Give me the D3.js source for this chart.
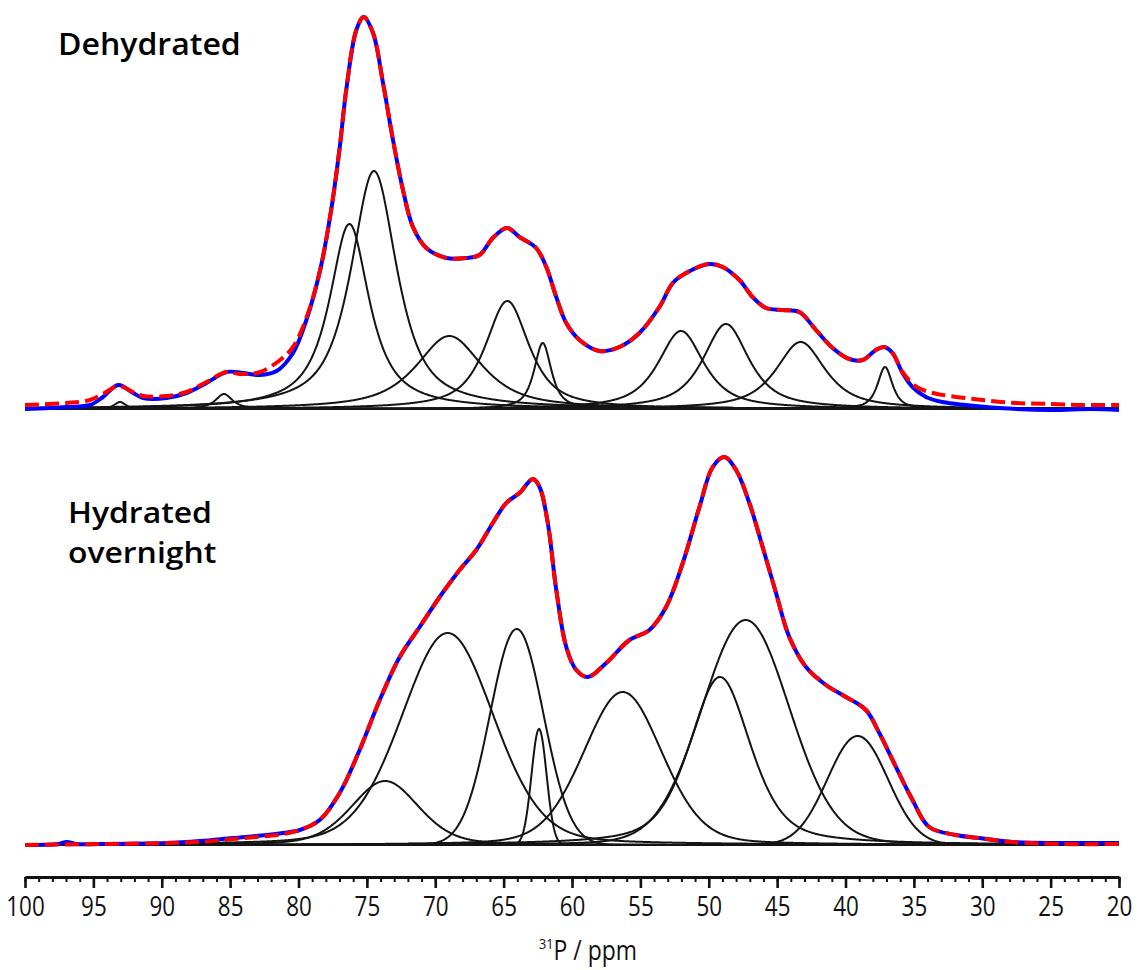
<!DOCTYPE html>
<html><head><meta charset="utf-8">
<script src="https://cdn.jsdelivr.net/npm/d3@7"></script>
<style>
html,body{margin:0;padding:0;background:#fff;}
svg{display:block;}
</style></head>
<body>
<svg id="chart" width="1139" height="970"></svg>
<script>
// ---------- DATA ----------
const panelLabels = [["Dehydrated"], ["Hydrated", "overnight"]];
const tickLabels = [100,95,90,85,80,75,70,65,60,55,50,45,40,35,30,25,20];
const axisTitleSup = "31";
const axisTitleMain = "P / ppm";

// Dehydrated: deconvolution components (centre ppm, height, FWHM ppm, Lorentzian fraction)
const dehydCenters = [93.05, 85.45, 76.28, 74.48, 68.97, 64.73, 62.14, 52.03, 48.74, 43.28, 37.11];
const dehydHeights = [7, 15, 185, 238, 73, 108, 66, 78, 85, 67, 42];
const dehydWidths  = [1.0, 1.5, 3.5, 4.0, 5.8, 3.8, 1.5, 4.0, 4.0, 4.3, 1.3];
const dehydLorentz = [0.9, 0.9, 0.9, 0.8, 0.8, 0.8, 0.8, 0.8, 0.8, 0.8, 0.8];

// Dehydrated: experimental spectrum (blue)
const dehydExpPpm = [100, 96.96, 95.25, 94.3, 93.18, 92.09, 91.36, 89.65, 88.19, 86.73, 85.27, 84.05, 82.83, 81.6, 80.4, 79.4, 78.4, 77.6, 77.0, 76.5, 75.77, 75.23, 74.55, 73.82, 73.09, 72.36, 71.63, 70.65, 69.19, 67.73, 66.76, 65.79, 64.76, 63.84, 62.62, 61.88, 61.15, 60.42, 59.45, 57.99, 56.53, 55.07, 53.61, 52.63, 51.66, 49.95, 48.98, 47.76, 46.79, 45.81, 44.6, 43.38, 42.16, 40.94, 39.73, 38.75, 37.78, 37.17, 36.56, 35.83, 35.1, 34.12, 32.91, 31.2, 28.77, 25, 22, 20];
const dehydExpInt = [0, 2, 4, 12, 24, 16, 11, 11, 16, 26, 37, 36, 34, 38, 56, 90, 140, 200, 260, 320, 379, 392, 376, 326, 269, 219, 182, 161, 151, 151, 154, 171, 181, 172, 161, 142, 112, 86, 69, 58, 62, 76, 102, 126, 136, 145, 142, 129, 112, 101, 99, 97, 79, 61, 50, 49, 59, 62, 56, 36, 22, 12, 7, 4, 1, -1, 0, -1];

// Dehydrated: fitted sum (red dashed)
const dehydFitPpm = [100, 96.96, 95.25, 94.3, 93.18, 92.09, 91.36, 89.65, 88.19, 86.73, 85.27, 84.3, 82.8, 81.35, 80.4, 79.4, 78.4, 77.6, 77.0, 76.5, 75.77, 75.23, 74.55, 73.82, 73.09, 72.36, 71.63, 70.65, 69.19, 67.73, 66.76, 65.79, 64.76, 63.84, 62.62, 61.88, 61.15, 60.42, 59.45, 57.99, 56.53, 55.07, 53.61, 52.63, 51.66, 49.95, 48.98, 47.76, 46.79, 45.81, 44.6, 43.38, 42.16, 40.94, 39.73, 38.75, 37.78, 37.17, 36.56, 35.83, 34.8, 33.6, 32.4, 30.0, 27.5, 25.0, 22.6, 20];
const dehydFitInt = [4, 6, 9, 15, 23, 17, 13, 13, 17, 27, 37, 35, 37, 49, 62, 92, 140, 200, 260, 320, 379, 392, 376, 326, 269, 219, 182, 161, 151, 151, 154, 171, 181, 172, 161, 142, 112, 86, 69, 58, 62, 76, 102, 126, 136, 145, 142, 129, 112, 101, 99, 97, 79, 61, 50, 49, 59, 62, 56, 37, 22, 16, 13, 9, 6, 5, 4, 4];

// Hydrated overnight: deconvolution components
const hydCenters = [73.67, 69.09, 64.04, 62.41, 56.29, 49.18, 47.30, 39.11];
const hydHeights = [64, 212, 216, 116, 153, 168, 225, 109];
const hydWidths  = [5.8, 8.0, 4.6, 1.3, 6.8, 5.3, 7.6, 5.2];
const hydLorentz = [0.3, 0.2, 0.0, 0.0, 0.2, 0.5, 0.1, 0.0];

// Hydrated overnight: experimental spectrum (blue)
const hydExpPpm = [100, 97.6, 96.95, 96.2, 94.5, 89.65, 87.2, 84.8, 82.3, 81.13, 79.9, 78.45, 76.99, 75.53, 74.06, 72.6, 71.14, 69.68, 68.22, 67.0, 65.79, 64.81, 63.84, 62.86, 62.37, 61.77, 61.15, 60.42, 59.69, 58.84, 57.5, 55.8, 54.34, 53.12, 51.9, 50.68, 49.71, 48.86, 48.0, 47.03, 46.06, 45.08, 44.11, 42.89, 41.43, 39.97, 38.51, 37.53, 36.31, 35.1, 33.88, 31.93, 30.23, 27.8, 24.1, 20];
const hydExpInt = [0, 1, 3, 1, 1, 2, 4, 7, 10, 12, 15, 25, 52, 95, 145, 188, 218, 248, 275, 295, 322, 342, 352, 366, 358, 322, 255, 198, 175, 168, 182, 205, 215, 238, 282, 338, 378, 388, 375, 342, 298, 252, 208, 178, 160, 148, 135, 112, 78, 45, 18, 10, 7, 3, 2, 2];

// Hydrated overnight: fitted sum (red dashed)
const hydFitPpm = [100, 94.5, 89.65, 87.2, 84.8, 82.3, 81.13, 79.9, 78.45, 76.99, 75.53, 74.06, 72.6, 71.14, 69.68, 68.22, 67.0, 65.79, 64.81, 63.84, 62.86, 62.37, 61.77, 61.15, 60.42, 59.69, 58.84, 57.5, 55.8, 54.34, 53.12, 51.9, 50.68, 49.71, 48.86, 48.0, 47.03, 46.06, 45.08, 44.11, 42.89, 41.43, 39.97, 38.51, 37.53, 36.31, 35.1, 33.88, 31.93, 30.23, 27.8, 24.1, 20];
const hydFitInt = [0, 1, 2, 3, 6, 9, 11, 15, 25, 52, 95, 145, 188, 218, 248, 275, 295, 322, 342, 352, 366, 358, 322, 255, 198, 175, 168, 182, 205, 215, 238, 282, 338, 378, 388, 375, 342, 298, 252, 208, 178, 160, 148, 135, 112, 78, 45, 18, 10, 7, 3, 1, 1];

// ---------- DRAWING ----------
const svg = d3.select("#chart");
const x = d3.scaleLinear().domain([100, 20]).range([25, 1119]);
const yTop = d3.scaleLinear().domain([0, 400]).range([409, 9]);
const yBot = d3.scaleLinear().domain([0, 400]).range([845, 445]);

function pv(p, c, h, w, eta) {
  const d = (p - c) / w;
  const g = Math.exp(-4 * Math.LN2 * d * d);
  const l = 1 / (1 + 4 * d * d);
  return h * (eta * l + (1 - eta) * g);
}
const grid = d3.range(100, 19.999, -0.05);

function drawPanel(y, centers, heights, widths, lor, expP, expI, fitP, fitI) {
  const g = svg.append("g");
  const compLine = d3.line().x(d => x(d[0])).y(d => y(d[1]));
  centers.forEach((c, i) => {
    const pts = grid.map(p => [p, pv(p, c, heights[i], widths[i], lor[i])]);
    g.append("path").attr("d", compLine(pts))
      .attr("fill", "none").attr("stroke", "#141414").attr("stroke-width", 2);
  });
  const smooth = d3.line().x(d => x(d[0])).y(d => y(d[1])).curve(d3.curveCatmullRom.alpha(0.5));
  g.append("path").attr("d", smooth(expP.map((p, i) => [p, expI[i]])))
    .attr("fill", "none").attr("stroke", "#0000ff").attr("stroke-width", 4).attr("stroke-linejoin", "round");
  g.append("path").attr("d", smooth(fitP.map((p, i) => [p, fitI[i]])))
    .attr("fill", "none").attr("stroke", "#ff0000").attr("stroke-width", 4)
    .attr("stroke-dasharray", "14,6");
}

drawPanel(yTop, dehydCenters, dehydHeights, dehydWidths, dehydLorentz, dehydExpPpm, dehydExpInt, dehydFitPpm, dehydFitInt);
drawPanel(yBot, hydCenters, hydHeights, hydWidths, hydLorentz, hydExpPpm, hydExpInt, hydFitPpm, hydFitInt);

// labels
const labelFont = "'Open Sans', 'Noto Sans', sans-serif";
svg.append("text").attr("transform", "translate(58,55) scale(1.05,1)").text(panelLabels[0][0])
  .attr("font-family", labelFont).attr("font-weight", 600).attr("font-size", 30.5).attr("fill", "#000");
panelLabels[1].forEach((t, i) => {
  svg.append("text").attr("transform", `translate(68,${523 + i * 40}) scale(1.1,1)`).text(t)
    .attr("font-family", labelFont).attr("font-weight", 600).attr("font-size", 29).attr("fill", "#000");
});

// axis
const axisY = 877;
const tickFont = "'Open Sans', 'Noto Sans', sans-serif";
const minor = svg.append("g").attr("transform", `translate(0,${axisY})`)
  .call(d3.axisBottom(x).tickValues(d3.range(20, 101, 1)).tickSize(5).tickSizeOuter(0).tickFormat(""));
minor.selectAll("line").attr("stroke", "#111").attr("stroke-width", 2);
minor.select(".domain").attr("stroke", "#111").attr("stroke-width", 2.8);
const major = svg.append("g").attr("transform", `translate(0,${axisY})`)
  .call(d3.axisBottom(x).tickValues(tickLabels).tickSize(11).tickSizeOuter(0).tickPadding(8).tickFormat(d3.format("d")));
major.select(".domain").remove();
major.selectAll("line").attr("stroke", "#111").attr("stroke-width", 2.6);
major.selectAll("text").attr("font-family", tickFont).attr("font-size", 28).attr("fill", "#111")
  .attr("transform", "scale(0.8,1)");

const title = svg.append("text").attr("transform", "translate(588,960) scale(0.85,1)").attr("text-anchor", "middle")
  .attr("font-family", tickFont).attr("font-size", 27).attr("fill", "#111");
title.append("tspan").text(axisTitleSup).attr("font-size", 15).attr("dy", -11);
title.append("tspan").text(axisTitleMain).attr("dy", 11);
</script>
</body></html>
